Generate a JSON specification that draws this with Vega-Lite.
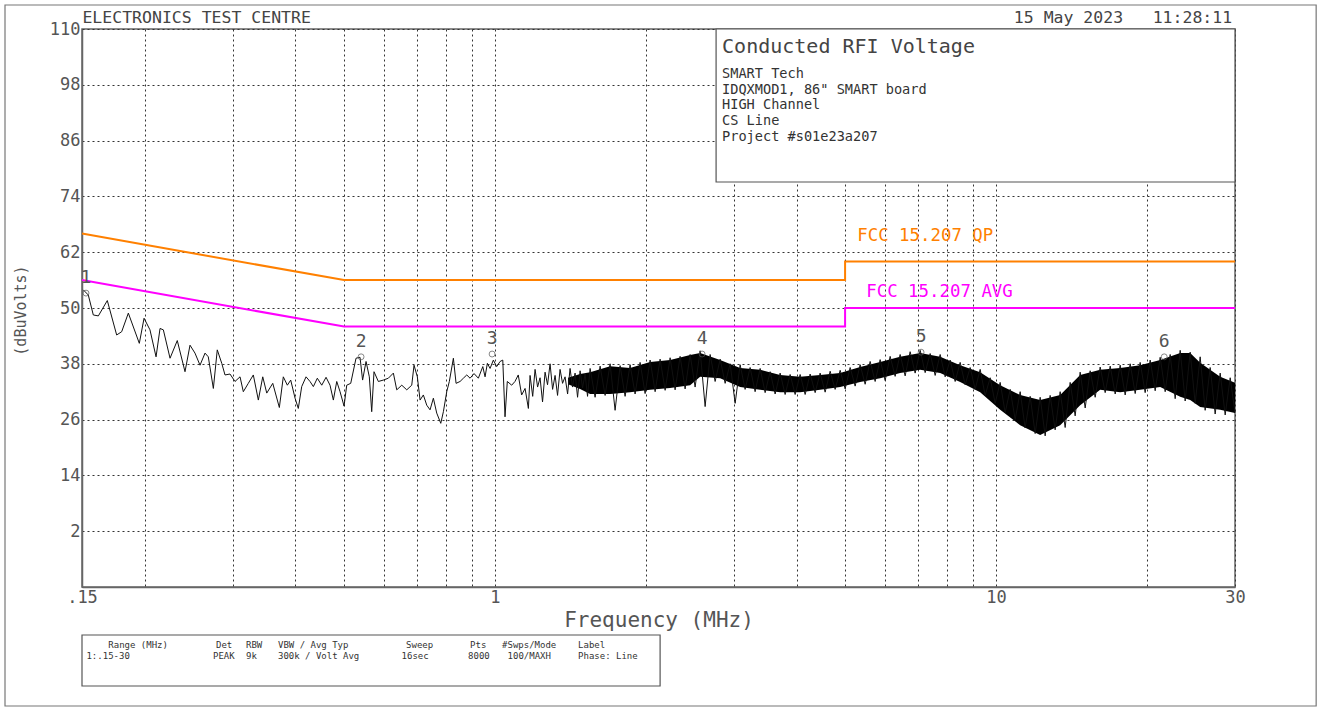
{
  "$schema": "https://vega.github.io/schema/vega-lite/v6.json",
  "width": 1153,
  "height": 558,
  "autosize": {"type": "none"},
  "padding": {"left": 82, "top": 29, "right": 83, "bottom": 121},
  "background": "white",
  "config": {
    "view": {"stroke": "#666", "strokeWidth": 1.5},
    "axis": {"labelFont": "DejaVu Sans Mono", "titleFont": "DejaVu Sans Mono", "titleFontWeight": "normal", "labelColor": "#555", "titleColor": "#555"},
    "text": {"font": "DejaVu Sans Mono"}
  },
  "datasets": {
    "frame": [{"f": 0.1053, "f2": 43.56, "v": 115.16, "v2": -35.59}],
    "infobox": [{"f": 2.764, "f2": 30, "v": 110, "v2": 77.1}],
    "tablebox": [{"f": 0.15, "f2": 2.137, "v": -20.32, "v2": -31.29}],
    "header": [{"f": 0.1503, "v": 112.37, "t": "ELECTRONICS TEST CENTRE"}],
    "date": [{"f": 17.94, "v": 112.37, "t": "15 May 2023"}, {"f": 29.61, "v": 112.37, "t": "11:28:11"}],
    "infotitle": [{"f": 2.841, "v": 106.1, "t": "Conducted RFI Voltage"}],
    "infolines": [
      {"f": 2.841, "v": 100.3, "t": "SMART Tech"},
      {"f": 2.841, "v": 96.9, "t": "IDQXMOD1, 86\" SMART board"},
      {"f": 2.841, "v": 93.7, "t": "HIGH Channel"},
      {"f": 2.841, "v": 90.2, "t": "CS Line"},
      {"f": 2.841, "v": 86.8, "t": "Project #s01e23a207"}
    ],
    "table": [
      {"f": 0.1693, "v": -22.47, "t": "Range (MHz)"},
      {"f": 0.1531, "v": -24.84, "t": "1:.15-30"},
      {"f": 0.2777, "v": -22.47, "t": "Det"},
      {"f": 0.2739, "v": -24.84, "t": "PEAK"},
      {"f": 0.3187, "v": -22.47, "t": "RBW"},
      {"f": 0.3187, "v": -24.84, "t": "9k"},
      {"f": 0.3692, "v": -22.47, "t": "VBW / Avg Typ"},
      {"f": 0.3692, "v": -24.84, "t": "300k / Volt Avg"},
      {"f": 0.665, "v": -22.47, "t": "Sweep"},
      {"f": 0.6514, "v": -24.84, "t": "16sec"},
      {"f": 0.8924, "v": -22.47, "t": "Pts"},
      {"f": 0.8842, "v": -24.84, "t": "8000"},
      {"f": 1.0338, "v": -22.47, "t": "#Swps/Mode"},
      {"f": 1.0603, "v": -24.84, "t": "100/MAXH"},
      {"f": 1.4659, "v": -22.47, "t": "Label"},
      {"f": 1.4659, "v": -24.84, "t": "Phase: Line"}
    ],
    "limits": [
      {"limit": "QP", "seq": 1, "f": 0.15, "v": 66},
      {"limit": "QP", "seq": 2, "f": 0.5, "v": 56},
      {"limit": "QP", "seq": 3, "f": 5, "v": 56},
      {"limit": "QP", "seq": 4, "f": 5, "v": 60},
      {"limit": "QP", "seq": 5, "f": 30, "v": 60},
      {"limit": "AVG", "seq": 1, "f": 0.15, "v": 56},
      {"limit": "AVG", "seq": 2, "f": 0.5, "v": 46},
      {"limit": "AVG", "seq": 3, "f": 5, "v": 46},
      {"limit": "AVG", "seq": 4, "f": 5, "v": 50},
      {"limit": "AVG", "seq": 5, "f": 30, "v": 50}
    ],
    "limitlabels": [
      {"limit": "QP", "f": 5.286, "v": 65.5, "t": "FCC 15.207 QP"},
      {"limit": "AVG", "f": 5.51, "v": 53.4, "t": "FCC 15.207 AVG"}
    ],
    "markers": [
      {"f": 0.1528, "v": 53.2, "t": "1"},
      {"f": 0.5408, "v": 39.5, "t": "2"},
      {"f": 0.9874, "v": 40.1, "t": "3"},
      {"f": 2.592, "v": 40.1, "t": "4"},
      {"f": 7.09, "v": 40.5, "t": "5"},
      {"f": 21.67, "v": 39.5, "t": "6"}
    ],
    "band": [
      {"f": 1.40, "v": 35.0, "v2": 33.6},
      {"f": 1.4795, "v": 35.8, "v2": 32.6},
      {"f": 1.5492, "v": 36.2, "v2": 31.5},
      {"f": 1.6983, "v": 37.5, "v2": 31.5},
      {"f": 1.8618, "v": 37.1, "v2": 31.9},
      {"f": 2.0412, "v": 38.4, "v2": 32.4},
      {"f": 2.2376, "v": 38.8, "v2": 32.8},
      {"f": 2.4531, "v": 39.9, "v2": 33.4},
      {"f": 2.5685, "v": 40.3, "v2": 35.2},
      {"f": 2.816, "v": 38.8, "v2": 34.9},
      {"f": 3.0867, "v": 37.1, "v2": 33.0},
      {"f": 3.384, "v": 36.7, "v2": 32.4},
      {"f": 3.7098, "v": 35.6, "v2": 31.9},
      {"f": 4.067, "v": 35.2, "v2": 31.9},
      {"f": 4.4585, "v": 35.6, "v2": 32.4},
      {"f": 4.8878, "v": 36.0, "v2": 33.0},
      {"f": 5.3583, "v": 37.3, "v2": 34.1},
      {"f": 5.8742, "v": 38.4, "v2": 34.9},
      {"f": 6.4397, "v": 39.5, "v2": 36.0},
      {"f": 7.0598, "v": 40.3, "v2": 36.7},
      {"f": 7.7394, "v": 39.5, "v2": 36.0},
      {"f": 8.4845, "v": 37.7, "v2": 34.1},
      {"f": 9.3012, "v": 36.2, "v2": 31.9},
      {"f": 10.197, "v": 33.4, "v2": 28.1},
      {"f": 11.178, "v": 31.3, "v2": 24.8},
      {"f": 12.254, "v": 30.2, "v2": 22.7},
      {"f": 13.434, "v": 31.3, "v2": 24.8},
      {"f": 14.727, "v": 35.6, "v2": 29.1},
      {"f": 16.146, "v": 36.7, "v2": 32.4},
      {"f": 17.7, "v": 37.1, "v2": 31.9},
      {"f": 19.403, "v": 37.7, "v2": 32.4},
      {"f": 21.271, "v": 38.8, "v2": 33.0},
      {"f": 23.319, "v": 40.3, "v2": 30.9},
      {"f": 24.415, "v": 40.3, "v2": 30.2},
      {"f": 25.563, "v": 38.2, "v2": 28.7},
      {"f": 28.025, "v": 35.2, "v2": 28.1},
      {"f": 30.0, "v": 33.9, "v2": 27.4}
    ],
    "trace": [
      {"f":0.1509,"v":53.9},{"f":0.1544,"v":52.8},{"f":0.1580,"v":48.5},{"f":0.1617,"v":48.3},{"f":0.1685,"v":51.6},{"f":0.1759,"v":44.2},{"f":0.1800,"v":44.9},{"f":0.1856,"v":48.9},{"f":0.1952,"v":42.4},{"f":0.1995,"v":47.8},{"f":0.2050,"v":45.3},{"f":0.2108,"v":39.5},{"f":0.2147,"v":45.6},{"f":0.2180,"v":45.3},{"f":0.2248,"v":39.2},{"f":0.2324,"v":43.0},{"f":0.2408,"v":36.3},{"f":0.2464,"v":42.0},{"f":0.2521,"v":40.3},{"f":0.2580,"v":37.7},{"f":0.2640,"v":40.3},{"f":0.2680,"v":39.5},{"f":0.2743,"v":32.7},{"f":0.2793,"v":41.0},{"f":0.2851,"v":38.1},{"f":0.2894,"v":35.6},{"f":0.2961,"v":35.8},{"f":0.3030,"v":34.2},{"f":0.3101,"v":35.2},{"f":0.3148,"v":32.0},{"f":0.3221,"v":33.8},{"f":0.3296,"v":35.6},{"f":0.3373,"v":30.2},{"f":0.3442,"v":35.2},{"f":0.3506,"v":31.7},{"f":0.3604,"v":33.8},{"f":0.3715,"v":28.6},{"f":0.3783,"v":35.2},{"f":0.3854,"v":33.4},{"f":0.3914,"v":34.5},{"f":0.3993,"v":30.6},{"f":0.4053,"v":28.4},{"f":0.4117,"v":33.1},{"f":0.4200,"v":35.2},{"f":0.4277,"v":34.2},{"f":0.4343,"v":33.1},{"f":0.4423,"v":34.9},{"f":0.4514,"v":33.4},{"f":0.4604,"v":35.1},{"f":0.4689,"v":33.4},{"f":0.4761,"v":30.2},{"f":0.4836,"v":34.2},{"f":0.4910,"v":32.0},{"f":0.5001,"v":28.9},{"f":0.5063,"v":33.4},{"f":0.5157,"v":33.8},{"f":0.5284,"v":39.2},{"f":0.5382,"v":39.4},{"f":0.5446,"v":34.5},{"f":0.5533,"v":38.5},{"f":0.5617,"v":35.2},{"f":0.5679,"v":27.7},{"f":0.5739,"v":36.3},{"f":0.5855,"v":34.2},{"f":0.5991,"v":34.5},{"f":0.6130,"v":34.9},{"f":0.6273,"v":36.0},{"f":0.6371,"v":32.4},{"f":0.6520,"v":33.4},{"f":0.6671,"v":32.4},{"f":0.6826,"v":33.4},{"f":0.6898,"v":37.7},{"f":0.7004,"v":35.2},{"f":0.7092,"v":30.2},{"f":0.7200,"v":31.3},{"f":0.7313,"v":29.1},{"f":0.7425,"v":28.1},{"f":0.7539,"v":30.6},{"f":0.7656,"v":27.4},{"f":0.7800,"v":25.2},{"f":0.7894,"v":27.7},{"f":0.8017,"v":32.0},{"f":0.8113,"v":34.2},{"f":0.8265,"v":39.2},{"f":0.8368,"v":33.8},{"f":0.8523,"v":34.2},{"f":0.8653,"v":34.9},{"f":0.8789,"v":35.6},{"f":0.8924,"v":34.9},{"f":0.9089,"v":35.9},{"f":0.9270,"v":34.9},{"f":0.9461,"v":37.4},{"f":0.9561,"v":35.2},{"f":0.9662,"v":38.1},{"f":0.9783,"v":37.0},{"f":0.9932,"v":38.8},{"f":1.0085,"v":37.4},{"f":1.0244,"v":38.5},{"f":1.0371,"v":38.8},{"f":1.0479,"v":26.6},{"f":1.0589,"v":34.2},{"f":1.0804,"v":33.4},{"f":1.0969,"v":34.2},{"f":1.1136,"v":35.6},{"f":1.1311,"v":31.3},{"f":1.1490,"v":32.7},{"f":1.1666,"v":28.4},
      {"f":1.1757,"v":35.5},{"f":1.1900,"v":31.0},{"f":1.2030,"v":36.8},{"f":1.2170,"v":33.0},{"f":1.2310,"v":35.0},{"f":1.2450,"v":29.8},{"f":1.2596,"v":36.2},{"f":1.2740,"v":33.5},
      {"f":1.2889,"v":38.0},{"f":1.3040,"v":32.5},{"f":1.3189,"v":35.5},{"f":1.3340,"v":31.2},{"f":1.3495,"v":36.8},{"f":1.3650,"v":33.8},{"f":1.3809,"v":35.2},{"f":1.3970,"v":31.5},
      {"f":1.4130,"v":37.0},{"f":1.4290,"v":33.0},{"f":1.4459,"v":36.0},{"f":1.4625,"v":30.8},{"f":1.4795,"v":36.5},{"f":1.4965,"v":32.8},{"f":1.5139,"v":35.8},{"f":1.5310,"v":31.0},
      {"f":1.5492,"v":37.0},{"f":1.5852,"v":30.8},{"f":1.6221,"v":37.5},{"f":1.6598,"v":31.2},
      {"f":1.6983,"v":38.0},{"f":1.7378,"v":28.0},{"f":1.7782,"v":37.6},{"f":1.8195,"v":31.0},
      {"f":1.8618,"v":37.8},{"f":1.9051,"v":31.5},{"f":1.9494,"v":38.3},{"f":1.9947,"v":31.6},
      {"f":2.0412,"v":38.8},{"f":2.0887,"v":32.0},{"f":2.1372,"v":39.0},{"f":2.1869,"v":32.3},
      {"f":2.2376,"v":39.3},{"f":2.2896,"v":32.4},{"f":2.3429,"v":39.6},{"f":2.3973,"v":32.6},
      {"f":2.4531,"v":40.0},{"f":2.5101,"v":33.0},{"f":2.5685,"v":40.8},{"f":2.6282,"v":28.8},
      {"f":2.6893,"v":40.0},{"f":2.7518,"v":34.2},
      {"f":2.8160,"v":39.0},{"f":2.8815,"v":33.8},{"f":2.9484,"v":38.0},{"f":3.0170,"v":29.5},
      {"f":3.0867,"v":37.8},{"f":3.1585,"v":32.5},{"f":3.2319,"v":37.2},{"f":3.3070,"v":32.0},
      {"f":3.3840,"v":37.0},{"f":3.4627,"v":31.8},{"f":3.5432,"v":36.3},{"f":3.6256,"v":31.5},
      {"f":3.7098,"v":36.0},{"f":3.7961,"v":31.4},{"f":3.8843,"v":35.7},{"f":3.9746,"v":31.4},
      {"f":4.0670,"v":35.7},{"f":4.1616,"v":31.4},{"f":4.2583,"v":35.8},{"f":4.3573,"v":31.8},
      {"f":4.4585,"v":36.0},{"f":4.5622,"v":31.9},{"f":4.6682,"v":36.4},{"f":4.7767,"v":32.5},
      {"f":4.8878,"v":36.6},{"f":5.0014,"v":32.6},{"f":5.1177,"v":37.2},{"f":5.2367,"v":33.2},
      {"f":5.3583,"v":37.8},{"f":5.4829,"v":33.6},{"f":5.6103,"v":38.5},{"f":5.7407,"v":34.2},
      {"f":5.8742,"v":38.9},{"f":6.0107,"v":34.4},{"f":6.1504,"v":39.6},{"f":6.2934,"v":35.3},
      {"f":6.4397,"v":40.0},{"f":6.5894,"v":35.4},{"f":6.7425,"v":40.6},{"f":6.8992,"v":36.0},
      {"f":7.0598,"v":40.9},{"f":7.2239,"v":36.1},{"f":7.3918,"v":40.2},{"f":7.5636,"v":35.5},
      {"f":7.7394,"v":40.0},{"f":7.9193,"v":35.2},{"f":8.1034,"v":38.8},{"f":8.2918,"v":34.2},
      {"f":8.4845,"v":38.3},{"f":8.6817,"v":33.5},{"f":8.8835,"v":37.2},{"f":9.0900,"v":32.5},
      {"f":9.3012,"v":36.8},{"f":9.5174,"v":31.2},{"f":9.7386,"v":35.0},{"f":9.9650,"v":29.5},
      {"f":10.197,"v":34.0},{"f":10.434,"v":27.5},{"f":10.677,"v":32.5},{"f":10.925,"v":26.0},
      {"f":11.178,"v":32.0},{"f":11.438,"v":24.2},{"f":11.704,"v":31.0},{"f":11.976,"v":23.0},
      {"f":12.254,"v":30.8},{"f":12.539,"v":22.5},{"f":12.830,"v":31.2},{"f":13.128,"v":23.8},
      {"f":13.434,"v":32.0},{"f":13.746,"v":24.3},{"f":14.066,"v":34.0},{"f":14.393,"v":26.8},
      {"f":14.727,"v":36.2},{"f":15.070,"v":28.5},{"f":15.420,"v":36.5},{"f":15.779,"v":30.8},
      {"f":16.146,"v":37.3},{"f":16.521,"v":31.8},{"f":16.906,"v":37.5},{"f":17.299,"v":31.5},
      {"f":17.700,"v":37.7},{"f":18.112,"v":31.3},{"f":18.533,"v":38.0},{"f":18.964,"v":31.6},
      {"f":19.403,"v":38.3},{"f":19.854,"v":31.8},{"f":20.316,"v":38.8},{"f":20.788,"v":32.2},
      {"f":21.271,"v":39.4},{"f":21.766,"v":32.0},{"f":22.272,"v":40.0},{"f":22.790,"v":30.5},
      {"f":23.319,"v":40.9},{"f":23.861,"v":30.0},{"f":24.415,"v":40.5},{"f":24.983,"v":29.5},
      {"f":25.563,"v":39.5},{"f":26.157,"v":28.0},{"f":26.765,"v":37.2},{"f":27.387,"v":27.2},
      {"f":28.025,"v":36.0},{"f":28.677,"v":27.0},{"f":29.344,"v":35.0},{"f":30.0,"v":27.5}
    ]
  },
  "encoding": {
    "x": {
      "field": "f", "type": "quantitative",
      "scale": {"type": "log", "domain": [0.15, 30], "nice": false},
      "axis": {
        "values": [0.15, 0.2, 0.3, 0.4, 0.5, 0.6, 0.7, 0.8, 0.9, 1, 2, 3, 4, 5, 6, 7, 8, 9, 10, 20, 30],
        "labelExpr": "datum.value == 0.15 ? '.15' : (datum.value == 1 ? '1' : (datum.value == 10 ? '10' : (datum.value == 30 ? '30' : '')))",
        "labelOverlap": false, "labelFlush": false,
        "labelFontSize": 17, "labelPadding": 2,
        "ticks": false, "domainColor": "#666", "domainWidth": 1.5,
        "grid": true, "gridColor": "#333", "gridDash": [2, 3], "gridWidth": 1,
        "title": "Frequency (MHz)", "titleFontSize": 21, "titleY": 33, "titleBaseline": "middle"
      }
    },
    "y": {
      "field": "v", "type": "quantitative",
      "scale": {"domain": [-10, 110], "nice": false, "zero": false},
      "axis": {
        "values": [-10, 2, 14, 26, 38, 50, 62, 74, 86, 98, 110],
        "labelExpr": "datum.value == -10 ? '' : datum.value + ''",
        "labelFontSize": 17, "labelPadding": 2,
        "ticks": false, "domainColor": "#666", "domainWidth": 1.5,
        "grid": true, "gridColor": "#333", "gridDash": [2, 3], "gridWidth": 1,
        "title": "(dBuVolts)", "titleFontSize": 15, "titleX": -62, "titleY": 281, "titleAngle": 270, "titleAlign": "center", "titleBaseline": "middle"
      }
    }
  },
  "layer": [
    {"data": {"name": "frame"}, "mark": {"type": "rect", "fill": null, "fillOpacity": 0, "stroke": "#777", "strokeWidth": 1.2}, "encoding": {"x2": {"field": "f2"}, "y2": {"field": "v2"}}},
    {"data": {"name": "infobox"}, "mark": {"type": "rect", "fill": "white", "stroke": "#555", "strokeWidth": 1.2}, "encoding": {"x2": {"field": "f2"}, "y2": {"field": "v2"}}},
    {"data": {"name": "tablebox"}, "mark": {"type": "rect", "fill": "white", "stroke": "#555", "strokeWidth": 1.2}, "encoding": {"x2": {"field": "f2"}, "y2": {"field": "v2"}}},
    {"data": {"name": "header"}, "mark": {"type": "text", "align": "left", "baseline": "middle", "fontSize": 16.5, "color": "#444"}, "encoding": {"text": {"field": "t"}}},
    {"data": {"name": "date"}, "mark": {"type": "text", "align": "right", "baseline": "middle", "fontSize": 16.5, "color": "#444"}, "encoding": {"text": {"field": "t"}}},
    {"data": {"name": "infotitle"}, "mark": {"type": "text", "align": "left", "baseline": "middle", "fontSize": 20, "color": "#444"}, "encoding": {"text": {"field": "t"}}},
    {"data": {"name": "infolines"}, "mark": {"type": "text", "align": "left", "baseline": "middle", "fontSize": 13.6, "color": "#333"}, "encoding": {"text": {"field": "t"}}},
    {"data": {"name": "table"}, "mark": {"type": "text", "align": "left", "baseline": "middle", "fontSize": 9, "color": "#333"}, "encoding": {"text": {"field": "t"}}},
    {"data": {"name": "limits"}, "mark": {"type": "line", "strokeWidth": 2}, "encoding": {"color": {"field": "limit", "type": "nominal", "scale": {"domain": ["QP", "AVG"], "range": ["#ff8000", "#ff00ff"]}, "legend": null}, "order": {"field": "seq", "type": "quantitative"}}},
    {"data": {"name": "limitlabels"}, "mark": {"type": "text", "align": "left", "baseline": "middle", "fontSize": 17.4}, "encoding": {"text": {"field": "t"}, "color": {"field": "limit", "type": "nominal", "scale": {"domain": ["QP", "AVG"], "range": ["#ff8000", "#ff00ff"]}, "legend": null}}},
    {"data": {"name": "band"}, "mark": {"type": "area", "color": "black", "opacity": 1}, "encoding": {"y2": {"field": "v2"}}},
    {"data": {"name": "trace"}, "mark": {"type": "line", "color": "#111", "strokeWidth": 1}, "encoding": {}},
    {"data": {"name": "markers"}, "mark": {"type": "point", "shape": "circle", "size": 35, "filled": false, "stroke": "#555", "strokeWidth": 1}, "encoding": {}},
    {"data": {"name": "markers"}, "mark": {"type": "text", "align": "center", "baseline": "middle", "fontSize": 18, "color": "#555", "dy": -15}, "encoding": {"text": {"field": "t"}}}
  ]
}
